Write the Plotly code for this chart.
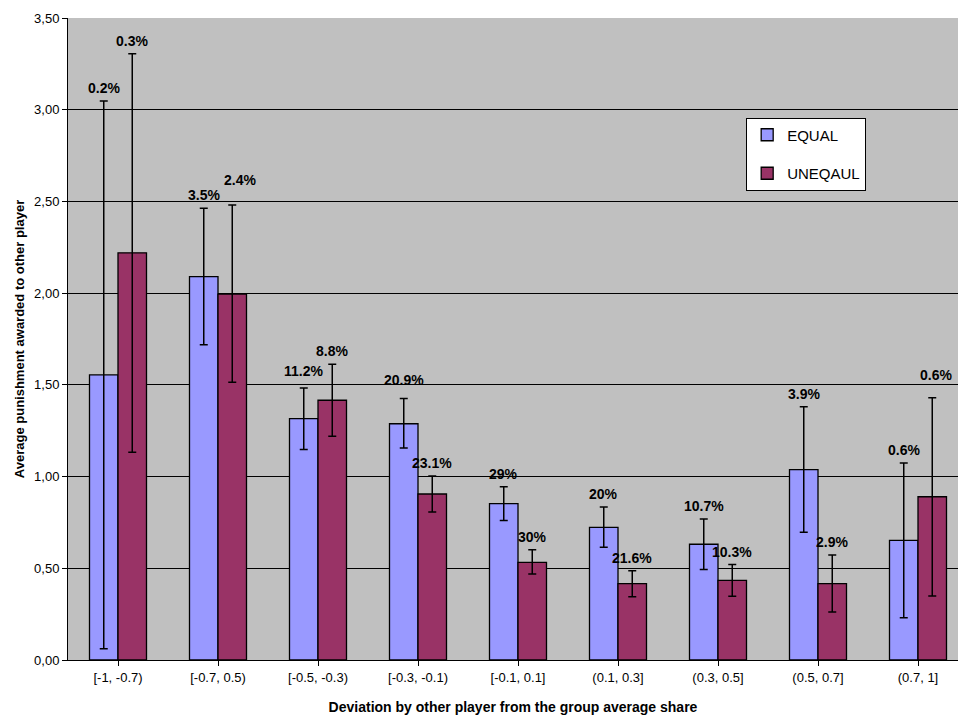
import plotly.graph_objects as go

categories = ["[-1, -0.7)", "[-0.7, 0.5)", "[-0.5, -0.3)", "[-0.3, -0.1)", "[-0.1, 0.1]",
              "(0.1, 0.3]", "(0.3, 0.5]", "(0.5, 0.7]", "(0.7, 1]"]

equal_mean = [1.554, 2.090, 1.316, 1.288, 0.852, 0.723, 0.631, 1.038, 0.652]
equal_upper = [3.047, 2.463, 1.483, 1.425, 0.945, 0.834, 0.769, 1.381, 1.074]
equal_lower = [0.062, 1.719, 1.147, 1.156, 0.760, 0.614, 0.494, 0.696, 0.231]
equal_labels = ["0.2%", "3.5%", "11.2%", "20.9%", "29%", "20%", "10.7%", "3.9%", "0.6%"]

unequal_mean = [2.220, 1.995, 1.416, 0.905, 0.532, 0.416, 0.434, 0.416, 0.890]
unequal_upper = [3.305, 2.480, 1.612, 1.003, 0.601, 0.487, 0.520, 0.572, 1.430]
unequal_lower = [1.132, 1.514, 1.220, 0.807, 0.469, 0.345, 0.347, 0.262, 0.349]
unequal_labels = ["0.3%", "2.4%", "8.8%", "23.1%", "30%", "21.6%", "10.3%", "2.9%", "0.6%"]

y_ticks = [0, 0.5, 1.0, 1.5, 2.0, 2.5, 3.0, 3.5]

FONT = "Liberation Sans, Arial, sans-serif"
BARGAP = 0.43
half = (1 - BARGAP) / 4

# small label nudges (pixels) to avoid overlaps, as in the original
label_nudge = {("b", 1): (8, 12), ("a", 2): (0, 4), ("a", 3): (0, 6), ("b", 8): (4, 10)}

x_idx = list(range(len(categories)))

fig = go.Figure()
fig.add_trace(go.Bar(
    x=x_idx, y=equal_mean, name="EQUAL", legendgroup="a",
    marker=dict(color="#9999FF", line=dict(color="#000000", width=1.3)),
    error_y=dict(type="data", symmetric=False,
                 array=[u - m for u, m in zip(equal_upper, equal_mean)],
                 arrayminus=[m - l for m, l in zip(equal_mean, equal_lower)],
                 color="#000000", thickness=1.5, width=4),
))
fig.add_trace(go.Bar(
    x=x_idx, y=unequal_mean, name="UNEQAUL", legendgroup="b",
    marker=dict(color="#993366", line=dict(color="#000000", width=1.3)),
    error_y=dict(type="data", symmetric=False,
                 array=[u - m for u, m in zip(unequal_upper, unequal_mean)],
                 arrayminus=[m - l for m, l in zip(unequal_mean, unequal_lower)],
                 color="#000000", thickness=1.5, width=4),
))

annotations = []
for key, offs, tops, labels in (("a", -half, equal_upper, equal_labels),
                                ("b", half, unequal_upper, unequal_labels)):
    for i in x_idx:
        dx, dy = label_nudge.get((key, i), (0, 0))
        annotations.append(dict(x=i + offs, y=tops[i], text=labels[i],
                                showarrow=False, yanchor="bottom", yshift=3 + dy, xshift=dx,
                                font=dict(family=FONT, size=14, color="#000000", weight="bold")))

fig.update_layout(
    width=958, height=718,
    margin=dict(l=68, r=0, t=18, b=58),
    paper_bgcolor="#FFFFFF", plot_bgcolor="#C0C0C0",
    barmode="group", bargap=BARGAP, bargroupgap=0,
    separators=",.",
    font=dict(family=FONT, size=13, color="#000000"),
    showlegend=True,
    legend=dict(x=0.762, y=0.845, xanchor="left", yanchor="top",
                bgcolor="#FFFFFF", bordercolor="#000000", borderwidth=1,
                font=dict(family=FONT, size=15, color="#000000"),
                tracegroupgap=16, traceorder="grouped", itemwidth=30),
    annotations=annotations,
    xaxis=dict(
        tickmode="array", tickvals=x_idx, ticktext=categories,
        range=[-0.5, 8.4], tickson="boundaries", ticks="outside", ticklen=5,
        tickcolor="#000000", showline=True, linecolor="#000000", linewidth=1,
        showgrid=False, zeroline=False,
        tickfont=dict(family=FONT, size=13, color="#000000"),
        title=dict(text="<b>Deviation by other player from the group average share</b>",
                   font=dict(family=FONT, size=14, color="#000000"), standoff=18),
    ),
    yaxis=dict(
        range=[0, 3.5], tickvals=y_ticks, tickformat=".2f",
        ticks="outside", ticklen=5, tickcolor="#000000",
        showline=True, linecolor="#000000", linewidth=1,
        showgrid=True, gridcolor="#000000", gridwidth=1, zeroline=False,
        tickfont=dict(family=FONT, size=13, color="#000000"),
        title=dict(text="<b>Average punishment awarded to other player</b>",
                   font=dict(family=FONT, size=13, color="#000000"), standoff=6),
    ),
)

fig.write_html("out.html",
               config={"displayModeBar": False},
               post_script="document.body.style.margin='0';document.body.style.overflow='hidden';")
